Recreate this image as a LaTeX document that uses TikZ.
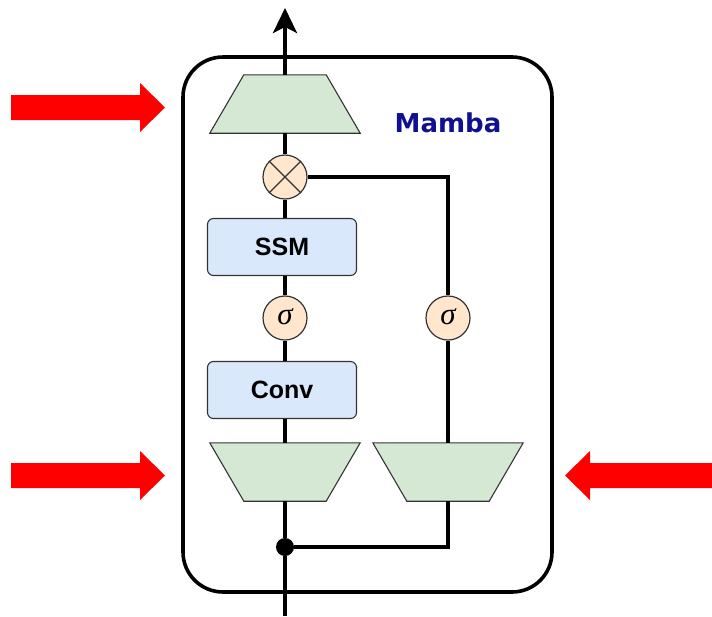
\documentclass[tikz,border=0pt]{standalone}
\usepackage{fontspec}
\setmainfont{Liberation Sans}
\newfontfamily\titlefont{DejaVu Sans}
\newfontfamily\greekfont{Liberation Serif}
\usetikzlibrary{arrows.meta}
\definecolor{trapfill}{HTML}{D5E8D4}
\definecolor{boxfill}{HTML}{DAE8FC}
\definecolor{opfill}{HTML}{FFE6CC}
\definecolor{mambablue}{RGB}{16,16,145}
\definecolor{edgegray}{HTML}{333333}
\begin{document}
\begin{tikzpicture}[x=1pt,y=-1pt,
  wire/.style={line width=3.6pt,black},
  blockbox/.style={draw=edgegray,line width=1.1pt,fill=boxfill,rounded corners=6pt,
    minimum width=149pt,minimum height=57pt,inner sep=0pt,
    font=\fontsize{25}{30}\selectfont\bfseries},
  opcircle/.style={circle,draw=edgegray,line width=1.2pt,fill=opfill,
    minimum size=44pt,inner sep=0pt,
    font=\greekfont\itshape\fontsize{31}{31}\selectfont},
  trapholder/.style={minimum width=150pt,minimum height=58pt,inner sep=0pt},
  trapline/.style={draw=edgegray,line width=1.1pt,fill=trapfill,line join=miter},
  bigarrow/.style={fill=red,draw=none}]
\useasboundingbox (0,0) rectangle (712,616);

% outer Mamba block
\node[draw,line width=3.6pt,rounded corners=40pt,minimum width=369pt,
  minimum height=535pt,inner sep=0pt] (block) at (367.5,324.5) {};
\node[font=\titlefont\fontsize{26}{30}\selectfont\bfseries,text=mambablue]
  (title) at (448,123) {Mamba};

% projection trapezoids (invisible holders, outlines drawn below)
\node[trapholder] (topT) at (285,104) {};
\node[trapholder] (trapL) at (285,472) {};
\node[trapholder] (trapR) at (448,472) {};

% operators and blocks
\node[opcircle] (mul) at (285,177) {};
\node[blockbox] (ssm) at (282,247) {SSM};
\node[opcircle] (sigL) at (285,318) {\raisebox{2pt}{σ}};
\node[blockbox] (conv) at (282,390) {Conv};
\node[opcircle] (sigR) at (448,318) {\raisebox{2pt}{σ}};
\node[circle,fill=black,minimum size=18pt,inner sep=0pt] (junc) at (285,547) {};
\coordinate (inp) at (285,616);
\coordinate (outp) at (285,8);

% trapezoid outlines
\draw[trapline] ([xshift=34pt]topT.north west) -- ([xshift=-34pt]topT.north east)
  -- (topT.south east) -- (topT.south west) -- cycle;
\draw[trapline] (trapL.north west) -- (trapL.north east)
  -- ([xshift=-34pt]trapL.south east) -- ([xshift=34pt]trapL.south west) -- cycle;
\draw[trapline] (trapR.north west) -- (trapR.north east)
  -- ([xshift=-34pt]trapR.south east) -- ([xshift=34pt]trapR.south west) -- cycle;

% cross inside the multiplication node
\draw[edgegray,line width=1.2pt] (mul.north east) -- (mul.south west)
  (mul.north west) -- (mul.south east);

% main path
\draw[wire] (inp) -- (junc);
\draw[wire] (junc) -- (trapL.south);
\draw[wire] (trapL.north) -- (conv.south -| trapL.north);
\draw[wire] (conv.north -| sigL) -- (sigL.south);
\draw[wire] (sigL.north) -- (ssm.south -| sigL);
\draw[wire] (ssm.north -| mul) -- (mul.south);
\draw[wire] (mul.north) -- (topT.south);
\draw[wire,-{Stealth[length=25pt,width=24pt,inset=6pt]}] (topT.north) -- (outp);

% gate branch
\draw[wire] (junc) -- (junc -| trapR) -- (trapR.south);
\draw[wire] (trapR.north) -- (sigR.south);
\draw[wire] (sigR.north) -- (sigR |- mul) -- (mul.east);

% red pointer arrows
\fill[bigarrow] (11,95) -- (140,95) -- (140,83) -- (165,107.5) -- (140,132)
  -- (140,120) -- (11,120) -- cycle;
\fill[bigarrow] (11,463) -- (140,463) -- (140,451) -- (165,475.5) -- (140,500)
  -- (140,488) -- (11,488) -- cycle;
\fill[bigarrow] (712,463) -- (590,463) -- (590,451) -- (565,475.5) -- (590,500)
  -- (590,488) -- (712,488) -- cycle;
\end{tikzpicture}
\end{document}
